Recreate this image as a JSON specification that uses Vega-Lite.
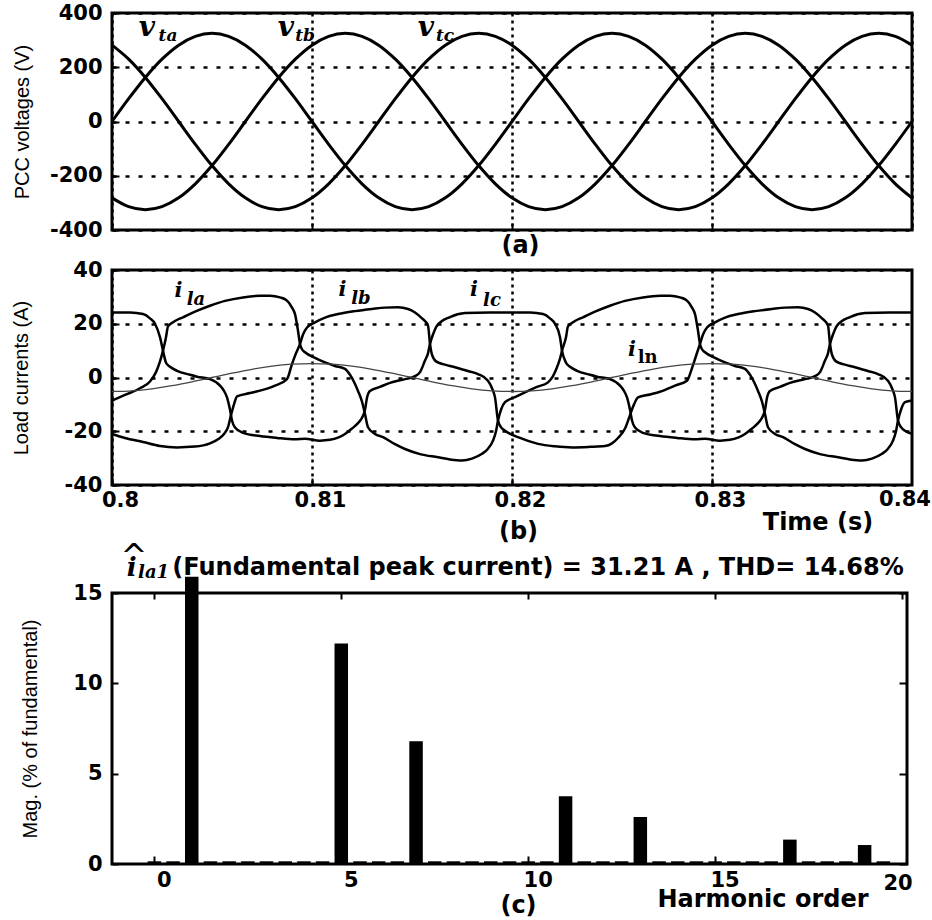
{
  "$schema": "https://vega.github.io/schema/vega-lite/v6.json",
  "padding": {"left": 10, "top": 0, "right": 0, "bottom": 0},
  "autosize": {"type": "pad"},
  "spacing": -2,
  "background": "white",
  "config": {
    "view": {"stroke": "black", "strokeWidth": 3},
    "axis": {
      "domain": false, "grid": false,
      "labelFont": "DejaVu Sans", "labelFontWeight": "bold", "labelFontSize": 21, "labelColor": "black",
      "titleFont": "Liberation Sans", "titleFontWeight": "normal", "titleFontSize": 20, "titleColor": "black",
      "tickColor": "black", "tickWidth": 2, "tickSize": -7,
      "gridColor": "black", "gridOpacity": 1, "gridWidth": 2.5,
      "labelPadding": 17, "labelFlush": false
    },
    "axisX": {"titleFont": "DejaVu Sans", "titleFontWeight": "bold", "titleFontSize": 24}
  },
  "datasets": {
    "volt": [
      {"t":0.8,"va":0,"vb":-281.5,"vc":281.5},
      {"t":0.800833,"va":84.1,"vb":-313.9,"vc":229.8},
      {"t":0.801667,"va":162.5,"vb":-325,"vc":162.5},
      {"t":0.8025,"va":229.8,"vb":-313.9,"vc":84.1},
      {"t":0.803333,"va":281.5,"vb":-281.5,"vc":0},
      {"t":0.804167,"va":313.9,"vb":-229.8,"vc":-84.1},
      {"t":0.805,"va":325,"vb":-162.5,"vc":-162.5},
      {"t":0.805833,"va":313.9,"vb":-84.1,"vc":-229.8},
      {"t":0.806667,"va":281.5,"vb":0,"vc":-281.5},
      {"t":0.8075,"va":229.8,"vb":84.1,"vc":-313.9},
      {"t":0.808333,"va":162.5,"vb":162.5,"vc":-325},
      {"t":0.809167,"va":84.1,"vb":229.8,"vc":-313.9},
      {"t":0.81,"va":0,"vb":281.5,"vc":-281.5},
      {"t":0.810833,"va":-84.1,"vb":313.9,"vc":-229.8},
      {"t":0.811667,"va":-162.5,"vb":325,"vc":-162.5},
      {"t":0.8125,"va":-229.8,"vb":313.9,"vc":-84.1},
      {"t":0.813333,"va":-281.5,"vb":281.5,"vc":0},
      {"t":0.814167,"va":-313.9,"vb":229.8,"vc":84.1},
      {"t":0.815,"va":-325,"vb":162.5,"vc":162.5},
      {"t":0.815833,"va":-313.9,"vb":84.1,"vc":229.8},
      {"t":0.816667,"va":-281.5,"vb":0,"vc":281.5},
      {"t":0.8175,"va":-229.8,"vb":-84.1,"vc":313.9},
      {"t":0.818333,"va":-162.5,"vb":-162.5,"vc":325},
      {"t":0.819167,"va":-84.1,"vb":-229.8,"vc":313.9},
      {"t":0.82,"va":0,"vb":-281.5,"vc":281.5},
      {"t":0.820833,"va":84.1,"vb":-313.9,"vc":229.8},
      {"t":0.821667,"va":162.5,"vb":-325,"vc":162.5},
      {"t":0.8225,"va":229.8,"vb":-313.9,"vc":84.1},
      {"t":0.823333,"va":281.5,"vb":-281.5,"vc":0},
      {"t":0.824167,"va":313.9,"vb":-229.8,"vc":-84.1},
      {"t":0.825,"va":325,"vb":-162.5,"vc":-162.5},
      {"t":0.825833,"va":313.9,"vb":-84.1,"vc":-229.8},
      {"t":0.826667,"va":281.5,"vb":0,"vc":-281.5},
      {"t":0.8275,"va":229.8,"vb":84.1,"vc":-313.9},
      {"t":0.828333,"va":162.5,"vb":162.5,"vc":-325},
      {"t":0.829167,"va":84.1,"vb":229.8,"vc":-313.9},
      {"t":0.83,"va":0,"vb":281.5,"vc":-281.5},
      {"t":0.830833,"va":-84.1,"vb":313.9,"vc":-229.8},
      {"t":0.831667,"va":-162.5,"vb":325,"vc":-162.5},
      {"t":0.8325,"va":-229.8,"vb":313.9,"vc":-84.1},
      {"t":0.833333,"va":-281.5,"vb":281.5,"vc":0},
      {"t":0.834167,"va":-313.9,"vb":229.8,"vc":84.1},
      {"t":0.835,"va":-325,"vb":162.5,"vc":162.5},
      {"t":0.835833,"va":-313.9,"vb":84.1,"vc":229.8},
      {"t":0.836667,"va":-281.5,"vb":0,"vc":281.5},
      {"t":0.8375,"va":-229.8,"vb":-84.1,"vc":313.9},
      {"t":0.838333,"va":-162.5,"vb":-162.5,"vc":325},
      {"t":0.839167,"va":-84.1,"vb":-229.8,"vc":313.9},
      {"t":0.84,"va":0,"vb":-281.5,"vc":281.5}
    ],
    "cur": [
      {"t":0.8,"p":"a","i":-8.6},{"t":0.80065,"p":"a","i":-6.5},{"t":0.8014,"p":"a","i":-4},{"t":0.8019,"p":"a","i":-1.5},
      {"t":0.8022,"p":"a","i":2},{"t":0.8024,"p":"a","i":6},{"t":0.80255,"p":"a","i":10},{"t":0.8027,"p":"a","i":15},
      {"t":0.8028,"p":"a","i":19},{"t":0.80315,"p":"a","i":21},{"t":0.80355,"p":"a","i":22.4},{"t":0.80415,"p":"a","i":24.5},
      {"t":0.8049,"p":"a","i":26.7},{"t":0.80565,"p":"a","i":28.5},{"t":0.80655,"p":"a","i":29.8},{"t":0.8074,"p":"a","i":30.4},
      {"t":0.8079,"p":"a","i":30.4},{"t":0.8084,"p":"a","i":29.8},{"t":0.80875,"p":"a","i":28.6},{"t":0.809,"p":"a","i":26},
      {"t":0.80915,"p":"a","i":23.6},{"t":0.8093,"p":"a","i":17.4},{"t":0.8094,"p":"a","i":12.5},{"t":0.8095,"p":"a","i":10.5},
      {"t":0.80965,"p":"a","i":9.4},{"t":0.81015,"p":"a","i":7.3},{"t":0.81065,"p":"a","i":5.6},{"t":0.81115,"p":"a","i":4.3},
      {"t":0.81165,"p":"a","i":3.2},{"t":0.8119,"p":"a","i":1},{"t":0.81215,"p":"a","i":-2.4},{"t":0.8123,"p":"a","i":-5},
      {"t":0.8125,"p":"a","i":-9},{"t":0.81265,"p":"a","i":-13.6},{"t":0.8128,"p":"a","i":-18.5},{"t":0.81315,"p":"a","i":-21},
      {"t":0.81355,"p":"a","i":-22.2},{"t":0.81415,"p":"a","i":-24.8},{"t":0.81465,"p":"a","i":-26.6},{"t":0.8154,"p":"a","i":-28.5},
      {"t":0.8163,"p":"a","i":-29.7},{"t":0.8169,"p":"a","i":-30.5},{"t":0.8175,"p":"a","i":-30.9},{"t":0.818,"p":"a","i":-30.2},
      {"t":0.8185,"p":"a","i":-28.4},{"t":0.8188,"p":"a","i":-26.5},{"t":0.81905,"p":"a","i":-23.5},{"t":0.8192,"p":"a","i":-20},
      {"t":0.8193,"p":"a","i":-16},{"t":0.81945,"p":"a","i":-12},{"t":0.81965,"p":"a","i":-9.2},{"t":0.82015,"p":"a","i":-7.3},
      {"t":0.82065,"p":"a","i":-5.5},{"t":0.82125,"p":"a","i":-3.5},{"t":0.8218,"p":"a","i":-1.8},{"t":0.82205,"p":"a","i":0.5},
      {"t":0.82225,"p":"a","i":3.8},{"t":0.8224,"p":"a","i":7},{"t":0.8225,"p":"a","i":10},{"t":0.8227,"p":"a","i":15},
      {"t":0.8228,"p":"a","i":19},{"t":0.82315,"p":"a","i":21},{"t":0.82355,"p":"a","i":22.4},{"t":0.82415,"p":"a","i":24.5},
      {"t":0.8249,"p":"a","i":26.7},{"t":0.82565,"p":"a","i":28.5},{"t":0.82655,"p":"a","i":29.8},{"t":0.8274,"p":"a","i":30.4},
      {"t":0.8279,"p":"a","i":30.4},{"t":0.8284,"p":"a","i":29.8},{"t":0.82875,"p":"a","i":28.6},{"t":0.829,"p":"a","i":26},
      {"t":0.82915,"p":"a","i":23.6},{"t":0.8293,"p":"a","i":17.4},{"t":0.8294,"p":"a","i":12.5},{"t":0.8295,"p":"a","i":10.5},
      {"t":0.82965,"p":"a","i":9.4},{"t":0.83015,"p":"a","i":7.3},{"t":0.83065,"p":"a","i":5.6},{"t":0.83115,"p":"a","i":4.3},
      {"t":0.83165,"p":"a","i":3.2},{"t":0.8319,"p":"a","i":1},{"t":0.83215,"p":"a","i":-2.4},{"t":0.8323,"p":"a","i":-5},
      {"t":0.8325,"p":"a","i":-9},{"t":0.83265,"p":"a","i":-13.6},{"t":0.8328,"p":"a","i":-18.5},{"t":0.83315,"p":"a","i":-21},
      {"t":0.83355,"p":"a","i":-22.2},{"t":0.83415,"p":"a","i":-24.8},{"t":0.83465,"p":"a","i":-26.6},{"t":0.8354,"p":"a","i":-28.5},
      {"t":0.8363,"p":"a","i":-29.7},{"t":0.8369,"p":"a","i":-30.5},{"t":0.8375,"p":"a","i":-30.9},{"t":0.838,"p":"a","i":-30.2},
      {"t":0.8385,"p":"a","i":-28.4},{"t":0.8388,"p":"a","i":-26.5},{"t":0.83905,"p":"a","i":-23.5},{"t":0.8392,"p":"a","i":-20},
      {"t":0.8393,"p":"a","i":-16},{"t":0.83945,"p":"a","i":-12},{"t":0.83965,"p":"a","i":-9.2},{"t":0.84,"p":"a","i":-8.6},

      {"t":0.8,"p":"b","i":-21},{"t":0.80065,"p":"b","i":-22.5},{"t":0.80155,"p":"b","i":-24},{"t":0.8024,"p":"b","i":-25.5},
      {"t":0.80325,"p":"b","i":-26},{"t":0.80415,"p":"b","i":-25.7},{"t":0.8049,"p":"b","i":-24.5},{"t":0.8053,"p":"b","i":-23},
      {"t":0.8056,"p":"b","i":-21},{"t":0.8058,"p":"b","i":-18.5},{"t":0.80595,"p":"b","i":-14},{"t":0.8061,"p":"b","i":-10},
      {"t":0.80625,"p":"b","i":-7},{"t":0.8069,"p":"b","i":-5.8},{"t":0.8074,"p":"b","i":-4.9},{"t":0.80815,"p":"b","i":-3},
      {"t":0.80875,"p":"b","i":-0.6},{"t":0.809,"p":"b","i":5},{"t":0.8092,"p":"b","i":9},{"t":0.8094,"p":"b","i":12.5},
      {"t":0.80955,"p":"b","i":16},{"t":0.80975,"p":"b","i":18.6},{"t":0.81015,"p":"b","i":20.5},{"t":0.81065,"p":"b","i":22.3},
      {"t":0.8113,"p":"b","i":23.6},{"t":0.81215,"p":"b","i":24.7},{"t":0.813,"p":"b","i":25.5},{"t":0.81365,"p":"b","i":26},
      {"t":0.8143,"p":"b","i":26.1},{"t":0.8148,"p":"b","i":25.5},{"t":0.81515,"p":"b","i":24.2},{"t":0.8155,"p":"b","i":22},
      {"t":0.8158,"p":"b","i":19.3},{"t":0.8159,"p":"b","i":12.5},{"t":0.816,"p":"b","i":8.5},{"t":0.8162,"p":"b","i":6},
      {"t":0.81665,"p":"b","i":4.8},{"t":0.81715,"p":"b","i":3.8},{"t":0.81775,"p":"b","i":2.5},{"t":0.8183,"p":"b","i":1.3},
      {"t":0.8188,"p":"b","i":-1.2},{"t":0.819,"p":"b","i":-4},{"t":0.81915,"p":"b","i":-7.4},{"t":0.8193,"p":"b","i":-16},
      {"t":0.81945,"p":"b","i":-18.5},{"t":0.81965,"p":"b","i":-19.8},{"t":0.8204,"p":"b","i":-22.5},{"t":0.8213,"p":"b","i":-24.7},
      {"t":0.82215,"p":"b","i":-25.6},{"t":0.823,"p":"b","i":-26},{"t":0.8239,"p":"b","i":-25.8},{"t":0.82465,"p":"b","i":-25.5},
      {"t":0.825,"p":"b","i":-24.5},{"t":0.8253,"p":"b","i":-22.5},{"t":0.82565,"p":"b","i":-19},{"t":0.8259,"p":"b","i":-14},
      {"t":0.8261,"p":"b","i":-10},{"t":0.8263,"p":"b","i":-7.4},{"t":0.8269,"p":"b","i":-6.3},{"t":0.8274,"p":"b","i":-5.3},
      {"t":0.82815,"p":"b","i":-3},{"t":0.82875,"p":"b","i":-1.2},{"t":0.829,"p":"b","i":3.5},{"t":0.8292,"p":"b","i":8},
      {"t":0.8294,"p":"b","i":12.5},{"t":0.82955,"p":"b","i":16},{"t":0.82975,"p":"b","i":18.6},{"t":0.83015,"p":"b","i":20.5},
      {"t":0.83065,"p":"b","i":22.3},{"t":0.8313,"p":"b","i":23.6},{"t":0.83215,"p":"b","i":24.7},{"t":0.833,"p":"b","i":25.5},
      {"t":0.83365,"p":"b","i":26},{"t":0.8343,"p":"b","i":26.1},{"t":0.8348,"p":"b","i":25.5},{"t":0.83515,"p":"b","i":24.2},
      {"t":0.8355,"p":"b","i":22},{"t":0.8358,"p":"b","i":19.3},{"t":0.8359,"p":"b","i":12.5},{"t":0.836,"p":"b","i":8.5},
      {"t":0.8362,"p":"b","i":6},{"t":0.83665,"p":"b","i":4.8},{"t":0.83715,"p":"b","i":3.8},{"t":0.83775,"p":"b","i":2.5},
      {"t":0.8383,"p":"b","i":1.3},{"t":0.8388,"p":"b","i":-1.2},{"t":0.839,"p":"b","i":-4},{"t":0.83915,"p":"b","i":-7.4},
      {"t":0.8393,"p":"b","i":-16},{"t":0.83945,"p":"b","i":-18.5},{"t":0.83965,"p":"b","i":-19.8},{"t":0.84,"p":"b","i":-21},

      {"t":0.8,"p":"c","i":24.2},{"t":0.8009,"p":"c","i":24.2},{"t":0.80155,"p":"c","i":23.6},{"t":0.8019,"p":"c","i":22},
      {"t":0.80215,"p":"c","i":20},{"t":0.8024,"p":"c","i":15},{"t":0.80255,"p":"c","i":10},{"t":0.8027,"p":"c","i":5.5},
      {"t":0.8029,"p":"c","i":4},{"t":0.80325,"p":"c","i":2.5},{"t":0.8039,"p":"c","i":1},{"t":0.80425,"p":"c","i":0.3},
      {"t":0.8049,"p":"c","i":-0.6},{"t":0.8054,"p":"c","i":-3},{"t":0.8056,"p":"c","i":-5},{"t":0.80575,"p":"c","i":-7.4},
      {"t":0.8059,"p":"c","i":-12},{"t":0.806,"p":"c","i":-16},{"t":0.80615,"p":"c","i":-18.6},{"t":0.80655,"p":"c","i":-20.6},
      {"t":0.8074,"p":"c","i":-21.8},{"t":0.80825,"p":"c","i":-22.5},{"t":0.80915,"p":"c","i":-23},{"t":0.80965,"p":"c","i":-22.8},
      {"t":0.8104,"p":"c","i":-23.5},{"t":0.8109,"p":"c","i":-23.2},{"t":0.8113,"p":"c","i":-22.4},{"t":0.81165,"p":"c","i":-21},
      {"t":0.812,"p":"c","i":-19},{"t":0.8123,"p":"c","i":-17},{"t":0.8125,"p":"c","i":-15},{"t":0.81265,"p":"c","i":-12},
      {"t":0.81275,"p":"c","i":-7.5},{"t":0.8129,"p":"c","i":-5},{"t":0.8134,"p":"c","i":-3.5},{"t":0.8139,"p":"c","i":-2},
      {"t":0.81465,"p":"c","i":-0.6},{"t":0.81515,"p":"c","i":0.5},{"t":0.8154,"p":"c","i":2},{"t":0.81565,"p":"c","i":6.3},
      {"t":0.8158,"p":"c","i":9},{"t":0.8159,"p":"c","i":12.5},{"t":0.81605,"p":"c","i":16},{"t":0.81625,"p":"c","i":19.3},
      {"t":0.8169,"p":"c","i":22.5},{"t":0.81765,"p":"c","i":24},{"t":0.8189,"p":"c","i":24.2},{"t":0.82,"p":"c","i":24.2},
      {"t":0.8209,"p":"c","i":24.2},{"t":0.82155,"p":"c","i":23.6},{"t":0.8219,"p":"c","i":22},{"t":0.82215,"p":"c","i":20},
      {"t":0.8224,"p":"c","i":15},{"t":0.8225,"p":"c","i":10},{"t":0.8227,"p":"c","i":5.5},{"t":0.8229,"p":"c","i":4},
      {"t":0.82325,"p":"c","i":2.5},{"t":0.8239,"p":"c","i":1},{"t":0.82425,"p":"c","i":0.3},{"t":0.8249,"p":"c","i":-0.6},
      {"t":0.8254,"p":"c","i":-3},{"t":0.8256,"p":"c","i":-5},{"t":0.82575,"p":"c","i":-7.4},{"t":0.8259,"p":"c","i":-12},
      {"t":0.826,"p":"c","i":-16},{"t":0.82615,"p":"c","i":-18.6},{"t":0.82655,"p":"c","i":-20.6},{"t":0.8274,"p":"c","i":-21.8},
      {"t":0.82825,"p":"c","i":-22.5},{"t":0.82915,"p":"c","i":-23},{"t":0.82965,"p":"c","i":-22.8},{"t":0.8304,"p":"c","i":-23.5},
      {"t":0.8309,"p":"c","i":-23.2},{"t":0.8313,"p":"c","i":-22.4},{"t":0.83165,"p":"c","i":-21},{"t":0.832,"p":"c","i":-19},
      {"t":0.8323,"p":"c","i":-17},{"t":0.8325,"p":"c","i":-15},{"t":0.83265,"p":"c","i":-12},{"t":0.83275,"p":"c","i":-7.5},
      {"t":0.8329,"p":"c","i":-5},{"t":0.8334,"p":"c","i":-3.5},{"t":0.8339,"p":"c","i":-2},{"t":0.83465,"p":"c","i":-0.6},
      {"t":0.83515,"p":"c","i":0.5},{"t":0.8354,"p":"c","i":2},{"t":0.83565,"p":"c","i":6.3},{"t":0.8358,"p":"c","i":9},
      {"t":0.8359,"p":"c","i":12.5},{"t":0.83605,"p":"c","i":16},{"t":0.83625,"p":"c","i":19.3},{"t":0.8369,"p":"c","i":22.5},
      {"t":0.83765,"p":"c","i":24},{"t":0.8389,"p":"c","i":24.2},{"t":0.84,"p":"c","i":24.2}
    ],
    "neut": [
      {"t":0.8,"i":-5.2},{"t":0.801,"i":-4.95},{"t":0.802,"i":-4.21},{"t":0.803,"i":-3.06},{"t":0.804,"i":-1.61},
      {"t":0.805,"i":0},{"t":0.806,"i":1.61},{"t":0.807,"i":3.06},{"t":0.808,"i":4.21},{"t":0.809,"i":4.95},
      {"t":0.81,"i":5.2},{"t":0.811,"i":4.95},{"t":0.812,"i":4.21},{"t":0.813,"i":3.06},{"t":0.814,"i":1.61},
      {"t":0.815,"i":0},{"t":0.816,"i":-1.61},{"t":0.817,"i":-3.06},{"t":0.818,"i":-4.21},{"t":0.819,"i":-4.95},
      {"t":0.82,"i":-5.2},{"t":0.821,"i":-4.95},{"t":0.822,"i":-4.21},{"t":0.823,"i":-3.06},{"t":0.824,"i":-1.61},
      {"t":0.825,"i":0},{"t":0.826,"i":1.61},{"t":0.827,"i":3.06},{"t":0.828,"i":4.21},{"t":0.829,"i":4.95},
      {"t":0.83,"i":5.2},{"t":0.831,"i":4.95},{"t":0.832,"i":4.21},{"t":0.833,"i":3.06},{"t":0.834,"i":1.61},
      {"t":0.835,"i":0},{"t":0.836,"i":-1.61},{"t":0.837,"i":-3.06},{"t":0.838,"i":-4.21},{"t":0.839,"i":-4.95},
      {"t":0.84,"i":-5.2}
    ],
    "harm": [
      {"h":0,"m":0.15},{"h":0.5,"m":0.15},{"h":1,"m":15.9},{"h":1.5,"m":0.15},{"h":2,"m":0.15},{"h":2.5,"m":0.15},
      {"h":3,"m":0.15},{"h":3.5,"m":0.15},{"h":4,"m":0.15},{"h":4.5,"m":0.15},{"h":5,"m":12.2},{"h":5.5,"m":0.15},
      {"h":6,"m":0.15},{"h":6.5,"m":0.15},{"h":7,"m":6.8},{"h":7.5,"m":0.15},{"h":8,"m":0.15},{"h":8.5,"m":0.15},
      {"h":9,"m":0.15},{"h":9.5,"m":0.15},{"h":10,"m":0.15},{"h":10.5,"m":0.15},{"h":11,"m":3.75},{"h":11.5,"m":0.15},
      {"h":12,"m":0.15},{"h":12.5,"m":0.15},{"h":13,"m":2.6},{"h":13.5,"m":0.15},{"h":14,"m":0.15},{"h":14.5,"m":0.15},
      {"h":15,"m":0.15},{"h":15.5,"m":0.15},{"h":16,"m":0.15},{"h":16.5,"m":0.15},{"h":17,"m":1.35},{"h":17.5,"m":0.15},
      {"h":18,"m":0.15},{"h":18.5,"m":0.15},{"h":19,"m":1.05},{"h":19.5,"m":0.15}
    ]
  },
  "vconcat": [
    {
      "width": 800, "height": 217,
      "layer": [
        {
          "data": {"name": "volt"},
          "transform": [{"fold": ["va", "vb", "vc"], "as": ["ph", "v"]}],
          "mark": {"type": "line", "color": "black", "strokeWidth": 3, "interpolate": "monotone"},
          "encoding": {
            "x": {"field": "t", "type": "quantitative", "scale": {"domain": [0.8, 0.84], "nice": false, "zero": false},
                  "axis": {"values": [0.8, 0.81, 0.82, 0.83, 0.84], "labels": false, "grid": true, "gridDash": [3, 4], "title": "(a)", "titlePadding": 2, "titleX": 408}},
            "y": {"field": "v", "type": "quantitative", "scale": {"domain": [-400, 400], "nice": false},
                  "axis": {"values": [-400, -200, 0, 200, 400], "grid": true, "gridDash": [4, 9], "labelExpr": "replace(datum.label, '\u2212', '-')", "title": "PCC voltages (V)", "titlePadding": 17.4}},
            "detail": {"field": "ph", "type": "nominal"}
          }
        },
        {
          "data": {"values": [{"t": 0.80175, "v": 315, "s": "v"}, {"t": 0.8087, "v": 315, "s": "v"}, {"t": 0.8157, "v": 315, "s": "v"}]},
          "mark": {"type": "text", "font": "DejaVu Serif", "fontStyle": "italic", "fontWeight": "bold", "fontSize": 28, "baseline": "alphabetic", "align": "center", "color": "black"},
          "encoding": {"x": {"field": "t", "type": "quantitative"}, "y": {"field": "v", "type": "quantitative"}, "text": {"field": "s"}}
        },
        {
          "data": {"values": [{"t": 0.8028, "v": 298, "s": "ta"}, {"t": 0.80965, "v": 298, "s": "tb"}, {"t": 0.81665, "v": 298, "s": "tc"}]},
          "mark": {"type": "text", "font": "DejaVu Serif", "fontStyle": "italic", "fontWeight": "bold", "fontSize": 17, "baseline": "alphabetic", "align": "center", "color": "black"},
          "encoding": {"x": {"field": "t", "type": "quantitative"}, "y": {"field": "v", "type": "quantitative"}, "text": {"field": "s"}}
        }
      ]
    },
    {
      "spacing": -6,
      "vconcat": [
        {
          "width": 800, "height": 215,
          "layer": [
            {
              "data": {"name": "cur"},
              "mark": {"type": "line", "color": "black", "strokeWidth": 2.5, "interpolate": "monotone"},
              "encoding": {
                "x": {"field": "t", "type": "quantitative", "scale": {"domain": [0.8, 0.84], "nice": false, "zero": false},
                      "axis": {"values": [0.8, 0.81, 0.82, 0.83], "format": ".2~f", "grid": true, "gridDash": [3, 4], "title": "(b)",
                               "labelPadding": 11.5, "titlePadding": 9, "labelOffset": 8, "titleX": 406}},
                "y": {"field": "i", "type": "quantitative", "scale": {"domain": [-40, 40], "nice": false},
                      "axis": {"values": [-40, -20, 0, 20, 40], "grid": true, "gridDash": [4, 9], "labelExpr": "replace(datum.label, '\u2212', '-')", "title": "Load currents (A)", "titlePadding": 32.5}},
                "detail": {"field": "p", "type": "nominal"}
              }
            },
            {
              "data": {"name": "neut"},
              "mark": {"type": "line", "color": "#444444", "strokeWidth": 1.3, "interpolate": "monotone"},
              "encoding": {"x": {"field": "t", "type": "quantitative"}, "y": {"field": "i", "type": "quantitative"}}
            },
            {
              "data": {"values": [{"t": 0.80333, "i": 30, "s": "i"}, {"t": 0.81153, "i": 30.3, "s": "i"}, {"t": 0.8181, "i": 30.3, "s": "i"}, {"t": 0.826, "i": 8, "s": "i"}]},
              "mark": {"type": "text", "font": "DejaVu Serif", "fontStyle": "italic", "fontWeight": "bold", "fontSize": 21, "baseline": "alphabetic", "align": "center", "color": "black"},
              "encoding": {"x": {"field": "t", "type": "quantitative"}, "y": {"field": "i", "type": "quantitative"}, "text": {"field": "s"}}
            },
            {
              "data": {"values": [{"t": 0.8042, "i": 27, "s": "la"}, {"t": 0.81245, "i": 27.3, "s": "lb"}, {"t": 0.819, "i": 26.6, "s": "lc"}]},
              "mark": {"type": "text", "font": "DejaVu Serif", "fontStyle": "italic", "fontWeight": "bold", "fontSize": 18, "baseline": "alphabetic", "align": "center", "color": "black"},
              "encoding": {"x": {"field": "t", "type": "quantitative"}, "y": {"field": "i", "type": "quantitative"}, "text": {"field": "s"}}
            },
            {
              "data": {"values": [{"t": 0.82678, "i": 5.4, "s": "ln"}]},
              "mark": {"type": "text", "font": "DejaVu Serif", "fontWeight": "bold", "fontSize": 18, "baseline": "alphabetic", "align": "center", "color": "black"},
              "encoding": {"x": {"field": "t", "type": "quantitative"}, "y": {"field": "i", "type": "quantitative"}, "text": {"field": "s"}}
            },
            {
              "data": {"values": [{"t": 0.83965, "i": -45.6, "s": "0.84"}]},
              "mark": {"type": "text", "font": "DejaVu Sans", "fontWeight": "bold", "fontSize": 21, "baseline": "middle", "align": "center", "color": "black"},
              "encoding": {"x": {"field": "t", "type": "quantitative"}, "y": {"field": "i", "type": "quantitative"}, "text": {"field": "s"}}
            },
            {
              "data": {"values": [{"t": 0.8353, "i": -54, "s": "Time (s)"}]},
              "mark": {"type": "text", "font": "DejaVu Sans", "fontWeight": "bold", "fontSize": 24, "baseline": "middle", "align": "center", "color": "black"},
              "encoding": {"x": {"field": "t", "type": "quantitative"}, "y": {"field": "i", "type": "quantitative"}, "text": {"field": "s"}}
            }
          ]
        },
        {
          "width": 795, "height": 271,
          "resolve": {"axis": {"x": "independent", "y": "independent"}},
          "layer": [
            {
              "data": {"name": "harm"},
              "mark": {"type": "bar", "color": "black", "width": 13.5},
              "encoding": {
                "x": {"field": "h", "type": "quantitative", "scale": {"domain": [-1, 20], "nice": false, "zero": false},
                      "axis": {"values": [0, 5, 10, 15], "title": "(c)", "grid": false, "labelPadding": 13, "titlePadding": 3, "tickSize": -8, "labelOffset": 9.5, "titleX": 406}},
                "y": {"field": "m", "type": "quantitative", "scale": {"domain": [0, 15], "nice": false},
                      "axis": {"values": [0, 5, 10, 15], "grid": false, "title": "Mag.  (% of fundamental)", "titlePadding": 32.3, "tickSize": -6, "labelPadding": 16}}
              }
            },
            {
              "data": {"values": [{"h": 0.479, "m": 15.99, "s": "(Fundamental peak current) = 31.21 A , THD= 14.68%"}]},
              "mark": {"type": "text", "font": "DejaVu Sans", "fontWeight": "bold", "fontSize": 24, "baseline": "alphabetic", "align": "left", "color": "black"},
              "encoding": {"x": {"field": "h", "type": "quantitative", "axis": null}, "y": {"field": "m", "type": "quantitative", "axis": null}, "text": {"field": "s"}}
            },
            {
              "data": {"values": [{"h": -0.604, "m": 15.94, "s": "i"}]},
              "mark": {"type": "text", "font": "DejaVu Serif", "fontStyle": "italic", "fontWeight": "bold", "fontSize": 26, "baseline": "alphabetic", "align": "center", "color": "black"},
              "encoding": {"x": {"field": "h", "type": "quantitative", "axis": null}, "y": {"field": "m", "type": "quantitative", "axis": null}, "text": {"field": "s"}}
            },
            {
              "data": {"values": [{"h": -0.551, "m": 16.44, "s": "^"}]},
              "mark": {"type": "text", "font": "DejaVu Sans", "fontSize": 32, "baseline": "alphabetic", "align": "center", "color": "black"},
              "encoding": {"x": {"field": "h", "type": "quantitative", "axis": null}, "y": {"field": "m", "type": "quantitative", "axis": null}, "text": {"field": "s"}}
            },
            {
              "data": {"values": [{"h": -0.02, "m": 15.83, "s": "la1"}]},
              "mark": {"type": "text", "font": "DejaVu Serif", "fontStyle": "italic", "fontWeight": "bold", "fontSize": 18, "baseline": "alphabetic", "align": "center", "color": "black"},
              "encoding": {"x": {"field": "h", "type": "quantitative", "axis": null}, "y": {"field": "m", "type": "quantitative", "axis": null}, "text": {"field": "s"}}
            },
            {
              "data": {"values": [{"h": 19.894, "m": -1.1, "s": "20"}]},
              "mark": {"type": "text", "font": "DejaVu Sans", "fontWeight": "bold", "fontSize": 21, "baseline": "middle", "align": "center", "color": "black"},
              "encoding": {"x": {"field": "h", "type": "quantitative", "axis": null}, "y": {"field": "m", "type": "quantitative", "axis": null}, "text": {"field": "s"}}
            },
            {
              "data": {"values": [{"h": 16.28, "m": -2.02, "s": "Harmonic order"}]},
              "mark": {"type": "text", "font": "DejaVu Sans", "fontWeight": "bold", "fontSize": 24, "baseline": "middle", "align": "center", "color": "black"},
              "encoding": {"x": {"field": "h", "type": "quantitative", "axis": null}, "y": {"field": "m", "type": "quantitative", "axis": null}, "text": {"field": "s"}}
            },
            {
              "data": {"name": "harm"},
              "mark": {"type": "point", "opacity": 0},
              "encoding": {
                "x": {"field": "h", "type": "quantitative", "axis": {"orient": "top", "values": [0, 5, 10, 15, 20], "labels": false, "title": null, "tickSize": -6, "grid": false}},
                "y": {"field": "m", "type": "quantitative", "axis": {"orient": "right", "values": [0, 5, 10, 15], "labels": false, "title": null, "tickSize": -8, "grid": false}}
              }
            }
          ]
        }
      ]
    }
  ]
}
